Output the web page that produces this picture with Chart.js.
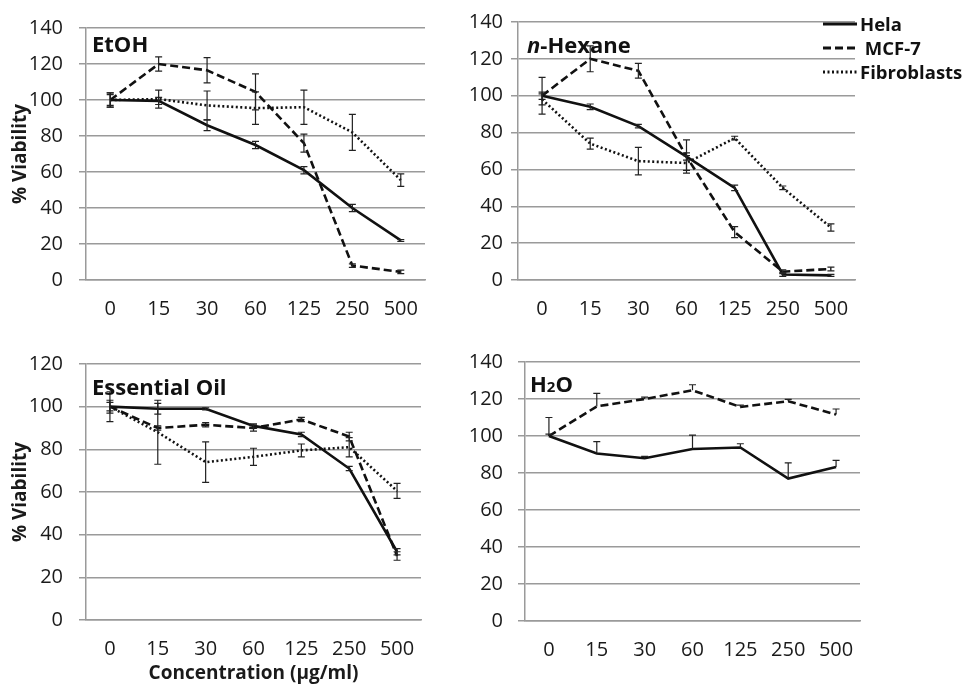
<!DOCTYPE html>
<html>
<head>
<meta charset="utf-8">
<script src="https://cdn.jsdelivr.net/npm/chart.js@4.4.1/dist/chart.umd.min.js"></script>
<style>
  body { margin: 0; background: #fff; }
  #wrap { position: relative; width: 962px; height: 685px; overflow: hidden; font-family: 'Open Sans', sans-serif; color: #111; }
  canvas { position: absolute; }
  .lbl { position: absolute; font-weight: bold; font-size: 22px; line-height: 22px; white-space: nowrap; }
  .leg { position: absolute; left: 823px; font-weight: bold; font-size: 18.5px; line-height: 20px; white-space: nowrap; display: flex; align-items: center; }
  .leg svg { margin-right: 3px; }
</style>
</head>
<body>
<div id="wrap">
  <canvas id="c1" width="440" height="330" style="left:0;top:0"></canvas>
  <canvas id="c2" width="522" height="330" style="left:440px;top:0"></canvas>
  <canvas id="c3" width="440" height="355" style="left:0;top:330px"></canvas>
  <canvas id="c4" width="522" height="355" style="left:440px;top:330px"></canvas>

  <div class="lbl" style="left:92px;top:32px">EtOH</div>
  <div class="lbl" style="left:527px;top:33px"><i>n</i>-Hexane</div>
  <div class="lbl" style="left:92px;top:375px">Essential Oil</div>
  <div class="lbl" style="left:530px;top:372px">H<span style="font-size:15px">2</span>O</div>

  <div class="leg" style="top:14px"><svg width="34" height="4"><line x1="0" y1="2" x2="34" y2="2" stroke="#111" stroke-width="3"/></svg>Hela</div>
  <div class="leg" style="top:38px"><svg width="34" height="4"><line x1="0" y1="2" x2="34" y2="2" stroke="#111" stroke-width="3" stroke-dasharray="8 4"/></svg>&nbsp;MCF-7</div>
  <div class="leg" style="top:62px"><svg width="34" height="4"><line x1="0" y1="2" x2="34" y2="2" stroke="#111" stroke-width="3" stroke-dasharray="2 2.5"/></svg>Fibroblasts</div>
</div>
<script>
// concentrations (ug/ml)
const concentrations = ['0', '15', '30', '60', '125', '250', '500'];

// EtOH
const etohHela = [100, 99.5, 86, 75, 61, 40, 22];
const etohHelaErr = [3, 2, 3, 2, 2, 2, 0.5];
const etohMcf7 = [100, 120, 116.5, 104.5, 76, 8, 4.5];
const etohMcf7Err = [4, 4, 7, 10, 5, 1, 1];
const etohFibro = [100, 100.5, 97, 95.5, 96, 82, 55.5];
const etohFibroErr = [4, 5, 8, 9, 9.5, 10, 3.5];

// n-Hexane
const hexHela = [100, 94, 83.5, 67, 50, 3, 2.5];
const hexHelaErr = [2, 1.5, 1, 2, 1.5, 1, 0.5];
const hexMcf7 = [100, 120, 113.5, 67, 26, 4.5, 6];
const hexMcf7Err = [10, 7, 4, 9, 3, 1, 1];
const hexFibro = [98, 74, 64.5, 63.5, 77, 50, 28.5];
const hexFibroErr = [3, 3, 7.5, 4, 1, 1, 2];

// Essential oil
const oilHela = [100, 99, 99, 91, 87, 71, 32];
const oilHelaErr = [7, 2.5, 0.5, 1, 1, 1, 1.5];
const oilMcf7 = [100, 90, 91.5, 90, 94, 86, 30];
const oilMcf7Err = [2, 1, 1, 1.5, 1, 2, 2];
const oilFibro = [100, 88, 74, 76.5, 79.5, 81, 60.5];
const oilFibroErr = [3, 15, 9.5, 4, 3, 4.5, 3.5];

// H2O
const h2oHela = [100, 90.5, 88, 93, 93.8, 77, 83.3];
const h2oHelaErr = [1, 6.5, 1, 7.5, 2, 8.5, 3.5];
const h2oMcf7 = [100, 116, 120, 124.7, 115.7, 118.8, 111.6];
const h2oMcf7Err = [10, 7, 1, 3, 1, 1, 3];

Chart.defaults.font.family = "'Open Sans', sans-serif";
Chart.defaults.font.size = 20;
Chart.defaults.color = '#1a1a1a';

const errorBars = {
    id: 'errorBars',
    afterDatasetsDraw(chart, args, opts) {
        const ctx = chart.ctx;
        const yScale = chart.scales.y;
        chart.data.datasets.forEach((ds, i) => {
            const meta = chart.getDatasetMeta(i);
            ctx.save();
            ctx.strokeStyle = '#222';
            ctx.lineWidth = 1.2;
            meta.data.forEach((pt, j) => {
                const e = ds.errors[j];
                if (!e) return;
                const v = ds.data[j];
                const top = yScale.getPixelForValue(v + e);
                const bot = opts.plusOnly ? pt.y : yScale.getPixelForValue(v - e);
                ctx.beginPath();
                ctx.moveTo(pt.x, top);
                ctx.lineTo(pt.x, bot);
                ctx.moveTo(pt.x - 3.5, top);
                ctx.lineTo(pt.x + 3.5, top);
                if (!opts.plusOnly) {
                    ctx.moveTo(pt.x - 3.5, bot);
                    ctx.lineTo(pt.x + 3.5, bot);
                }
                ctx.stroke();
            });
            ctx.restore();
        });
    }
};

function serie(label, data, errors, dash) {
    return {
        label: label,
        data: data,
        errors: errors,
        borderColor: '#111',
        borderWidth: 2.6,
        borderDash: dash,
        pointRadius: 0,
        tension: 0,
        fill: false
    };
}

function plotar(id, datasets, cfg) {
    new Chart(document.getElementById(id), {
        type: 'line',
        data: { labels: concentrations, datasets: datasets },
        plugins: [errorBars],
        options: {
            responsive: false,
            animation: false,
            layout: { padding: cfg.padding },
            plugins: {
                legend: { display: false },
                tooltip: { enabled: false },
                errorBars: { plusOnly: !!cfg.plusOnly }
            },
            scales: {
                x: {
                    offset: true,
                    grid: { display: false, drawTicks: false },
                    border: { display: true, color: '#9a9a9a', width: 1.5 },
                    ticks: { padding: 17, maxRotation: 0, autoSkip: false },
                    title: {
                        display: !!cfg.xTitle,
                        text: 'Concentration (\u03bcg/ml)',
                        font: { size: 19, weight: 'bold' },
                        padding: { top: 0, bottom: 0 }
                    },
                    afterFit: (s) => { s.height = cfg.xHeight; }
                },
                y: {
                    min: 0,
                    max: cfg.yMax,
                    grid: { color: '#9a9a9a', lineWidth: 1.5, tickLength: 7 },
                    border: { display: true, color: '#9a9a9a', width: 1.5 },
                    ticks: { stepSize: 20, padding: cfg.tickPad },
                    title: {
                        display: !!cfg.yTitle,
                        text: '% Viability',
                        font: { size: 19, weight: 'bold' },
                        padding: { top: 9, bottom: 0 }
                    },
                    afterFit: (s) => { s.width = cfg.yWidth; }
                }
            }
        }
    });
}

plotar('c1', [
    serie('Hela', etohHela, etohHelaErr, []),
    serie('MCF-7', etohMcf7, etohMcf7Err, [8, 4]),
    serie('Fibroblasts', etohFibro, etohFibroErr, [2, 2.5])
], { padding: { top: 22, right: 15, bottom: 0, left: 0 }, yWidth: 86, xHeight: 50, yMax: 140, tickPad: 16, yTitle: true });

plotar('c2', [
    serie('Hela', hexHela, hexHelaErr, []),
    serie('MCF-7', hexMcf7, hexMcf7Err, [8, 4]),
    serie('Fibroblasts', hexFibro, hexFibroErr, [2, 2.5])
], { padding: { top: 22, right: 107, bottom: 0, left: 0 }, yWidth: 78, xHeight: 50, yMax: 140, tickPad: 8 });

plotar('c3', [
    serie('Hela', oilHela, oilHelaErr, []),
    serie('MCF-7', oilMcf7, oilMcf7Err, [8, 4]),
    serie('Fibroblasts', oilFibro, oilFibroErr, [2, 2.5])
], { padding: { top: 34, right: 19, bottom: 0, left: 0 }, yWidth: 86, xHeight: 65, yMax: 120, tickPad: 16, yTitle: true, xTitle: true });

plotar('c4', [
    serie('Hela', h2oHela, h2oHelaErr, []),
    serie('MCF-7', h2oMcf7, h2oMcf7Err, [8, 4])
], { padding: { top: 32, right: 102, bottom: 0, left: 0 }, yWidth: 85, xHeight: 64, yMax: 140, tickPad: 15, plusOnly: true });
</script>
</body>
</html>
